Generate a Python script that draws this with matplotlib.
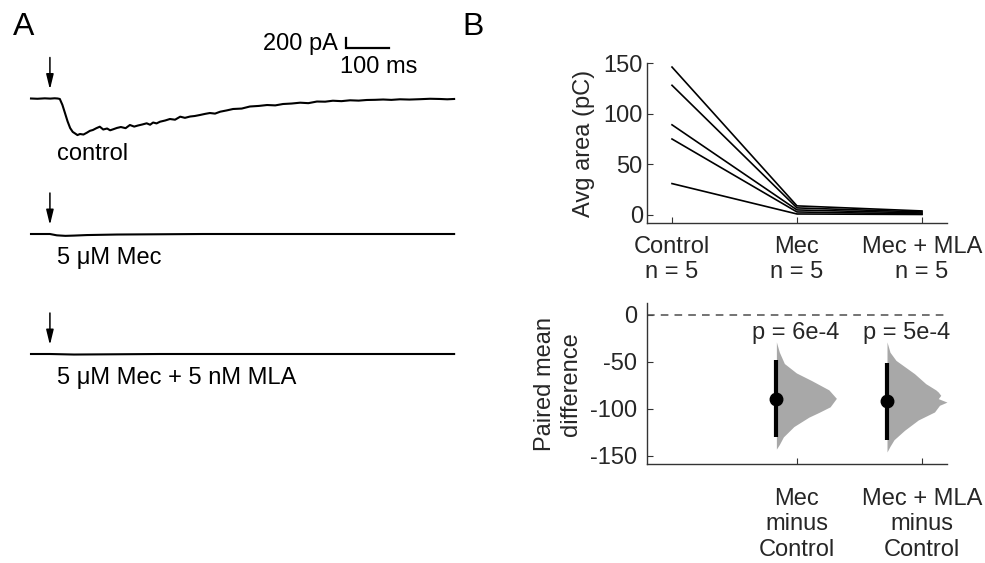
import numpy as np
import matplotlib
matplotlib.use('Agg')
import matplotlib.pyplot as plt

plt.rcParams['font.family'] = ['Liberation Sans', 'DejaVu Sans']
plt.rcParams['axes.unicode_minus'] = False

# panel A: control trace (ms, pA)
ctrl_t = [0, 15, 32, 45, 55, 62, 67, 73, 79, 85, 91, 97, 102, 108, 114, 122, 130, 137, 144,
          152, 160, 168, 177, 184, 191, 200, 209, 220, 230, 240, 249, 259, 269, 277, 284,
          292, 300, 312, 323, 335, 347, 358, 370, 381, 393, 405, 416, 428, 440, 455, 470,
          490, 509, 530, 549, 568, 586, 606, 626, 645, 665, 684, 702, 722, 742, 762, 781,
          800, 819, 838, 858, 880, 905, 928, 951, 968, 984]
ctrl_i = [0, -5, 3, -2, 4, 0, -9, -120, -274, -430, -557, -630, -657, -690, -670, -680, -645,
          -610, -594, -560, -532, -585, -566, -600, -581, -555, -538, -560, -500, -530, -509,
          -490, -468, -495, -453, -470, -438, -415, -387, -400, -343, -365, -340, -330, -311,
          -290, -274, -285, -249, -225, -198, -190, -151, -140, -123, -130, -104, -95, -79,
          -88, -57, -60, -42, -50, -34, -40, -28, -25, -19, -26, -15, -20, -13, -5, -9, -15, -9]
mec_t = [0, 44, 60, 80, 100, 130, 200, 400, 600, 800, 984]
mec_i = [0, 0, -25, -35, -30, -20, -10, 0, 0, 0, 0]
mla_t = [0, 44, 100, 300, 600, 984]
mla_i = [0, 0, -10, 0, 0, 0]
trace_labels = ['control', '5 μM Mec', '5 μM Mec + 5 nM MLA']
stim_t = 44

# panel B top: avg area (pC) per cell
groups = ['Control\nn = 5', 'Mec\nn = 5', 'Mec + MLA\nn = 5']
area_control = [146, 128, 89, 75, 31]
area_mec = [9, 7, 5, 3, 1]
area_mla = [4, 3, 2, 1, 0.5]

# panel B bottom: paired mean differences
diff_labels = ['Mec\nminus\nControl', 'Mec + MLA\nminus\nControl']
diff_mean = [-89.3, -92.0]
diff_ci = [(-48.7, -130.0), (-51.6, -133.5)]
p_labels = ['p = 6e-4', 'p = 5e-4']
# bootstrap distribution outline (y value, half width in x units)
dist1_y = [-29, -40, -52, -62, -70, -80, -89, -98, -104, -109, -119, -130, -138, -143]
dist1_w = [0, .024, .064, .16, .28, .42, .48, .43, .34, .26, .14, .056, .024, 0]
dist2_y = [-29, -40, -48.7, -62.8, -73.4, -80, -82.3, -85.8, -89.3, -93, -96.4, -103.5,
           -112, -123, -133, -140, -146]
dist2_w = [0, .024, .072, .22, .31, .39, .41, .43, .41, .48, .42, .38, .25, .14, .056, .024, 0]

AX_COL = '0.2'
FS = 17

fig = plt.figure(figsize=(9.85, 5.63), dpi=100)
W, H = 985, 563

# ---------- panel A ----------
ax_a = fig.add_axes([0, 0, 470 / W, 1])
k = 0.053  # px per pA
px_ms = 0.43
ax_a.set_xlim(-31 / px_ms, (470 - 31) / px_ms)
ax_a.set_ylim(-H / k, 0)
ax_a.axis('off')

rows = [(ctrl_t, ctrl_i, 98.5, 154), (mec_t, mec_i, 234, 258), (mla_t, mla_i, 354, 378)]
for (t, i, y_px, lab_px), label in zip(rows, trace_labels):
    off = -y_px / k
    ax_a.plot(t, np.array(i) + off, color='black', lw=1.5)
    ax_a.annotate('', xy=(stim_t, off + 9 / k), xytext=(stim_t, off + 41 / k),
                  arrowprops=dict(arrowstyle='-|>,head_length=0.9,head_width=0.22',
                                  color='black', lw=1.1, shrinkA=0, shrinkB=0))
    ax_a.text((57 - 31) / px_ms, -lab_px / k, label, fontsize=FS, ha='left', va='center')

# scale bar: 200 pA, 100 ms
sb_t = (346 - 31) / px_ms
sb_y = -48.3 / k
ax_a.plot([sb_t, sb_t, sb_t + 100], [sb_y + 200, sb_y, sb_y], color='black', lw=1.6,
          solid_joinstyle='miter')
ax_a.text(sb_t - 8 / px_ms, sb_y + 90, '200 pA', fontsize=FS, ha='right', va='center')
ax_a.text(sb_t - 6 / px_ms, -67 / k, '100 ms', fontsize=FS, ha='left', va='center')

fig.text(24 / W, 1 - 27 / H, 'A', fontsize=23, ha='center', va='center')
fig.text(473 / W, 1 - 27 / H, 'B', fontsize=23, ha='center', va='center')


def style(ax):
    for s in ['top', 'right']:
        ax.spines[s].set_visible(False)
    for s in ['left', 'bottom']:
        ax.spines[s].set_color(AX_COL)
        ax.spines[s].set_linewidth(1.0)
    ax.tick_params(direction='in', length=4, color=AX_COL, labelcolor='0.15',
                   labelsize=FS)


# ---------- panel B top ----------
ax_t = fig.add_axes([647 / W, 1 - 223 / H, 300 / W, 160 / H])
for c, m, ml in zip(area_control, area_mec, area_mla):
    ax_t.plot([0, 1, 2], [c, m, ml], color='black', lw=1.2)
ax_t.set_xlim(-0.2, 2.2)
ax_t.set_ylim(-7.9, 150)
ax_t.set_yticks([0, 50, 100, 150])
ax_t.set_xticks([0, 1, 2])
ax_t.set_xticklabels(groups, linespacing=1.2)
style(ax_t)
ax_t.tick_params(axis='x', pad=9)
ax_t.tick_params(axis='y', pad=3)
ax_t.set_ylabel('Avg area (pC)', fontsize=FS, color='0.15', labelpad=6)

# ---------- panel B bottom ----------
ax_b = fig.add_axes([647 / W, 1 - 464.3 / H, 300 / W, 161 / H])
ax_b.axhline(0, color='0.3', lw=1.1, ls=(0, (5, 4)))
dot_x = [0.835, 1.72]
for x, m, ci, dy, dw, p in zip(dot_x, diff_mean, diff_ci, [dist1_y, dist2_y],
                              [dist1_w, dist2_w], p_labels):
    ax_b.fill_betweenx(dy, x, x + np.array(dw), color='#a8a8a8', lw=0)
    ax_b.plot([x, x], ci, color='black', lw=3, solid_capstyle='butt')
    ax_b.plot(x, m, 'o', color='black', markersize=9)
    ax_b.text(x + 0.155, -20, p, fontsize=FS, ha='center', va='center', color='0.15')
ax_b.set_xlim(-0.2, 2.2)
ax_b.set_ylim(-159.1, 12)
ax_b.set_yticks([-150, -100, -50, 0])
ax_b.set_xticks([1, 2])
ax_b.set_xticklabels(diff_labels, linespacing=1.2)
style(ax_b)
ax_b.tick_params(axis='x', pad=17)
ax_b.tick_params(axis='y', pad=7)
ax_b.set_ylabel('Paired mean\ndifference', fontsize=FS, color='0.15', labelpad=6,
                linespacing=1.2)

fig.savefig('out.png', dpi=100)
